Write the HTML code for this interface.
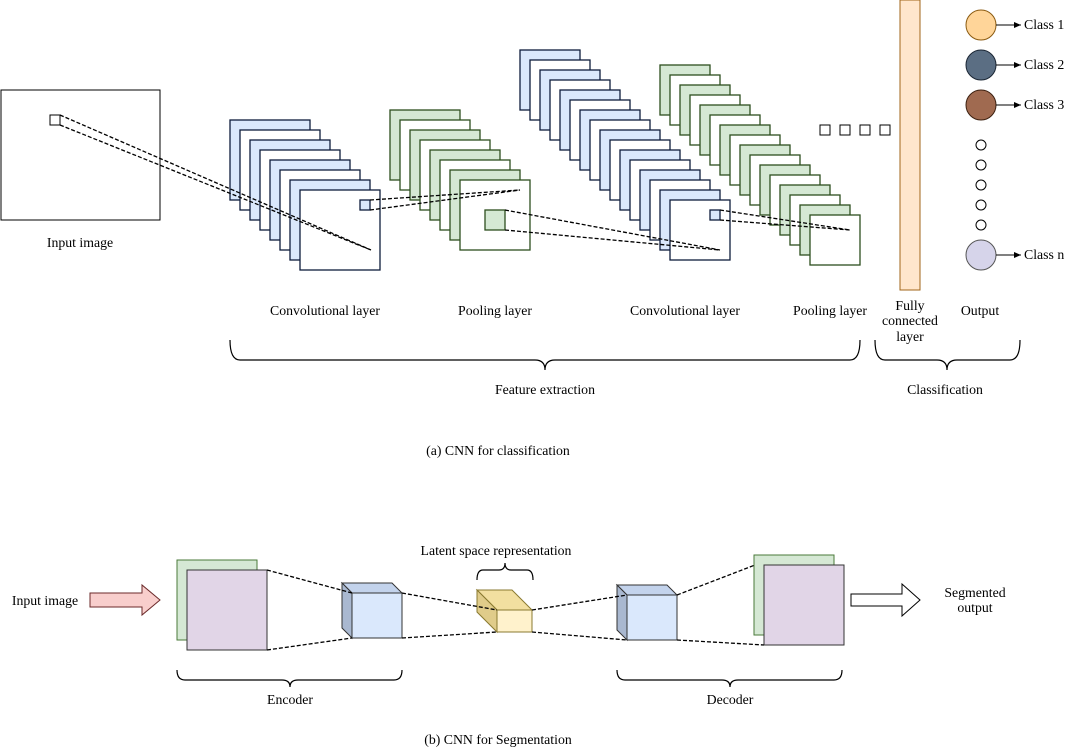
<!DOCTYPE html>
<html><head><meta charset="utf-8"><style>
body{margin:0;background:#fff}
svg{display:block}
text{font-family:"Liberation Serif",serif;font-size:13.8px;fill:#000}
</style></head><body>
<svg width="1071" height="751" viewBox="0 0 1071 751" xmlns="http://www.w3.org/2000/svg">
<defs>
<marker id="ah" markerWidth="8" markerHeight="8" refX="7" refY="4" orient="auto" markerUnits="userSpaceOnUse"><path d="M0,1 L7,4 L0,7 Z" fill="#000"/></marker>
</defs>
<rect x="1" y="90" width="159" height="130" fill="#fff" stroke="#000"/>
<rect x="50" y="115" width="10" height="10" fill="#fff" stroke="#000"/>
<text x="80" y="247" text-anchor="middle">Input image</text>

<g stroke="#0e1c3c" stroke-width="1.3">
<rect x="230" y="120" width="80" height="80" fill="#dae8fc"/>
<rect x="240" y="130" width="80" height="80" fill="#fff"/>
<rect x="250" y="140" width="80" height="80" fill="#dae8fc"/>
<rect x="260" y="150" width="80" height="80" fill="#fff"/>
<rect x="270" y="160" width="80" height="80" fill="#dae8fc"/>
<rect x="280" y="170" width="80" height="80" fill="#fff"/>
<rect x="290" y="180" width="80" height="80" fill="#dae8fc"/>
<rect x="300" y="190" width="80" height="80" fill="#fff"/>
<rect x="360" y="200" width="10" height="10" fill="#dae8fc"/>
</g>
<g stroke="#2d4f1e" stroke-width="1.3">
<rect x="390" y="110" width="70" height="70" fill="#d5e8d4"/>
<rect x="400" y="120" width="70" height="70" fill="#fff"/>
<rect x="410" y="130" width="70" height="70" fill="#d5e8d4"/>
<rect x="420" y="140" width="70" height="70" fill="#fff"/>
<rect x="430" y="150" width="70" height="70" fill="#d5e8d4"/>
<rect x="440" y="160" width="70" height="70" fill="#fff"/>
<rect x="450" y="170" width="70" height="70" fill="#d5e8d4"/>
<rect x="460" y="180" width="70" height="70" fill="#fff"/>
<rect x="485" y="210" width="20" height="20" fill="#d5e8d4"/>
</g>
<g stroke="#0e1c3c" stroke-width="1.3">
<rect x="520" y="50" width="60" height="60" fill="#dae8fc"/>
<rect x="530" y="60" width="60" height="60" fill="#fff"/>
<rect x="540" y="70" width="60" height="60" fill="#dae8fc"/>
<rect x="550" y="80" width="60" height="60" fill="#fff"/>
<rect x="560" y="90" width="60" height="60" fill="#dae8fc"/>
<rect x="570" y="100" width="60" height="60" fill="#fff"/>
<rect x="580" y="110" width="60" height="60" fill="#dae8fc"/>
<rect x="590" y="120" width="60" height="60" fill="#fff"/>
<rect x="600" y="130" width="60" height="60" fill="#dae8fc"/>
<rect x="610" y="140" width="60" height="60" fill="#fff"/>
<rect x="620" y="150" width="60" height="60" fill="#dae8fc"/>
<rect x="630" y="160" width="60" height="60" fill="#fff"/>
<rect x="640" y="170" width="60" height="60" fill="#dae8fc"/>
<rect x="650" y="180" width="60" height="60" fill="#fff"/>
<rect x="660" y="190" width="60" height="60" fill="#dae8fc"/>
<rect x="670" y="200" width="60" height="60" fill="#fff"/>
<rect x="710" y="210" width="10" height="10" fill="#dae8fc"/>
</g>
<g stroke="#2d4f1e" stroke-width="1.3">
<rect x="660" y="65" width="50" height="50" fill="#d5e8d4"/>
<rect x="670" y="75" width="50" height="50" fill="#fff"/>
<rect x="680" y="85" width="50" height="50" fill="#d5e8d4"/>
<rect x="690" y="95" width="50" height="50" fill="#fff"/>
<rect x="700" y="105" width="50" height="50" fill="#d5e8d4"/>
<rect x="710" y="115" width="50" height="50" fill="#fff"/>
<rect x="720" y="125" width="50" height="50" fill="#d5e8d4"/>
<rect x="730" y="135" width="50" height="50" fill="#fff"/>
<rect x="740" y="145" width="50" height="50" fill="#d5e8d4"/>
<rect x="750" y="155" width="50" height="50" fill="#fff"/>
<rect x="760" y="165" width="50" height="50" fill="#d5e8d4"/>
<rect x="770" y="175" width="50" height="50" fill="#fff"/>
<rect x="780" y="185" width="50" height="50" fill="#d5e8d4"/>
<rect x="790" y="195" width="50" height="50" fill="#fff"/>
<rect x="800" y="205" width="50" height="50" fill="#d5e8d4"/>
<rect x="810" y="215" width="50" height="50" fill="#fff"/>
</g>
<g stroke="#000" stroke-width="1.3" stroke-dasharray="4,2" fill="none">
<line x1="60" y1="115" x2="371" y2="250"/>
<line x1="60" y1="125" x2="371" y2="250"/>
<line x1="370" y1="200" x2="520" y2="190"/>
<line x1="370" y1="210" x2="520" y2="190"/>
<line x1="505" y1="210" x2="720" y2="250"/>
<line x1="505" y1="230" x2="720" y2="250"/>
<line x1="720" y1="210" x2="850" y2="230"/>
<line x1="720" y1="220" x2="850" y2="230"/>
</g>
<g fill="#fff" stroke="#000">
<rect x="820" y="125" width="10" height="10"/>
<rect x="840" y="125" width="10" height="10"/>
<rect x="860" y="125" width="10" height="10"/>
<rect x="880" y="125" width="10" height="10"/>
</g>
<rect x="900" y="0" width="20" height="290" fill="#ffe6cc" stroke="#a0661a"/>
<circle cx="981" cy="25" r="15" fill="#ffd599" stroke="#8a5a10"/>
<circle cx="981" cy="65" r="15" fill="#5b6e83" stroke="#1a2533"/>
<circle cx="981" cy="105" r="15" fill="#a06a50" stroke="#3c2010"/>
<circle cx="981" cy="255" r="15" fill="#d6d4ea" stroke="#555"/>
<g fill="#fff" stroke="#000">
<circle cx="981" cy="145" r="5"/><circle cx="981" cy="165" r="5"/><circle cx="981" cy="185" r="5"/><circle cx="981" cy="205" r="5"/><circle cx="981" cy="225" r="5"/>
</g>
<g stroke="#000" marker-end="url(#ah)">
<line x1="996" y1="25" x2="1021" y2="25"/>
<line x1="996" y1="65" x2="1021" y2="65"/>
<line x1="996" y1="105" x2="1021" y2="105"/>
<line x1="996" y1="255" x2="1021" y2="255"/>
</g>
<text x="1024" y="29">Class 1</text>
<text x="1024" y="69">Class 2</text>
<text x="1024" y="109">Class 3</text>
<text x="1024" y="259">Class n</text>

<text x="325" y="315" text-anchor="middle">Convolutional layer</text>
<text x="495" y="315" text-anchor="middle">Pooling layer</text>
<text x="685" y="315" text-anchor="middle">Convolutional layer</text>
<text x="830" y="315" text-anchor="middle">Pooling layer</text>
<text x="910" y="310" text-anchor="middle">Fully</text>
<text x="910" y="325" text-anchor="middle">connected</text>
<text x="910" y="341" text-anchor="middle">layer</text>
<text x="980" y="315" text-anchor="middle">Output</text>

<g stroke="#000" stroke-width="1.2" fill="none">
<path d="M230,340 Q230,360 240,360 L535,360 Q545,360 545,370 Q545,360 555,360 L850,360 Q860,360 860,340"/>
<path d="M875,340 Q875,360 885,360 L937,360 Q947,360 947,370 Q947,360 957,360 L1010,360 Q1020,360 1020,340"/>
<path d="M177,670 Q177,680 185,680 L282,680 Q290,680 290,687 Q290,680 298,680 L394,680 Q402,680 402,670"/>
<path d="M617,670 Q617,680 625,680 L722,680 Q730,680 730,687 Q730,680 738,680 L834,680 Q842,680 842,670"/>
<path d="M477,580 Q477,570 483,570 L499,570 Q505,570 505,563 Q505,570 511,570 L527,570 Q533,570 533,580"/>
</g>
<text x="545" y="394" text-anchor="middle">Feature extraction</text>
<text x="945" y="394" text-anchor="middle">Classification</text>
<text x="498" y="455" text-anchor="middle">(a) CNN for classification</text>

<text x="45" y="605" text-anchor="middle">Input image</text>
<path d="M90,593 L142,593 L142,585 L160,600 L142,615 L142,607 L90,607 Z" fill="#f8cecc" stroke="#6b2a2a"/>
<rect x="177" y="560" width="80" height="80" fill="#d5e8d4" stroke="#4a7a3a"/>
<rect x="187" y="570" width="80" height="80" fill="#e1d5e7" stroke="#333"/>
<path d="M342,583 L392,583 L402,593 L352,593 Z" fill="#c3d3ec" stroke="#333"/>
<path d="M342,583 L352,593 L352,638 L342,628 Z" fill="#a9b8d0" stroke="#333"/>
<rect x="352" y="593" width="50" height="45" fill="#dae8fc" stroke="#333"/>
<path d="M477,590 L512,590 L532,610 L497,610 Z" fill="#f2dfa0" stroke="#8a7a30"/>
<path d="M477,590 L497,610 L497,632 L477,612 Z" fill="#e0cc8a" stroke="#8a7a30"/>
<rect x="497" y="610" width="35" height="22" fill="#fff2cc" stroke="#8a7a30"/>
<text x="496" y="555" text-anchor="middle">Latent space representation</text>
<path d="M617,585 L667,585 L677,595 L627,595 Z" fill="#c3d3ec" stroke="#333"/>
<path d="M617,585 L627,595 L627,640 L617,630 Z" fill="#a9b8d0" stroke="#333"/>
<rect x="627" y="595" width="50" height="45" fill="#dae8fc" stroke="#333"/>
<rect x="754" y="555" width="80" height="80" fill="#d5e8d4" stroke="#4a7a3a"/>
<rect x="764" y="565" width="80" height="80" fill="#e1d5e7" stroke="#333"/>
<g stroke="#000" stroke-width="1.3" stroke-dasharray="4,2" fill="none">
<line x1="267" y1="570" x2="352" y2="593"/>
<line x1="267" y1="650" x2="352" y2="638"/>
<line x1="402" y1="593" x2="497" y2="610"/>
<line x1="402" y1="638" x2="497" y2="632"/>
<line x1="532" y1="610" x2="627" y2="595"/>
<line x1="532" y1="632" x2="627" y2="640"/>
<line x1="677" y1="595" x2="755" y2="565"/>
<line x1="677" y1="640" x2="764" y2="645"/>
</g>
<path d="M851,594 L902,594 L902,584 L920,600 L902,616 L902,606 L851,606 Z" fill="#fff" stroke="#000"/>
<text x="975" y="597" text-anchor="middle">Segmented</text>
<text x="975" y="612" text-anchor="middle">output</text>
<text x="290" y="704" text-anchor="middle">Encoder</text>
<text x="730" y="704" text-anchor="middle">Decoder</text>
<text x="498" y="744" text-anchor="middle">(b) CNN for Segmentation</text>
</svg>
</body></html>
